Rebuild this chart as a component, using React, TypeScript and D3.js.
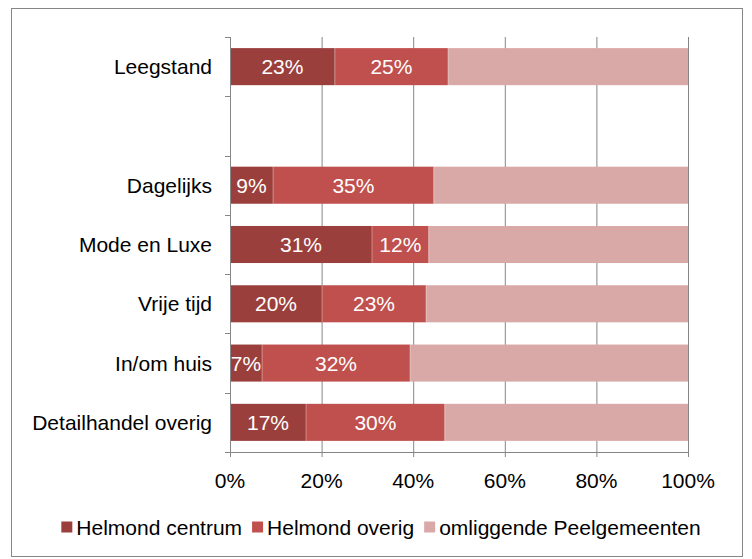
import { useEffect, useRef } from 'react';
import * as d3 from 'd3';

const categories = ['Leegstand', '', 'Dagelijks', 'Mode en Luxe', 'Vrije tijd', 'In/om huis', 'Detailhandel overig'];
const seriesNames = ['Helmond centrum', 'Helmond overig', 'omliggende Peelgemeenten'];
const centrumVals = [22.9, 0, 9.4, 31.0, 20.1, 7.0, 16.6];
const overigVals = [24.7, 0, 35.1, 12.4, 22.7, 32.3, 30.3];
const peelVals = [52.4, 0, 55.5, 56.6, 57.2, 60.7, 53.1];
const tickLabels = ['0%', '20%', '40%', '60%', '80%', '100%'];
const colors = ['#9b3f3d', '#c0504d', '#d9a9a8'];

export default function App() {
  const ref = useRef<SVGSVGElement>(null);

  useEffect(() => {
    if (!ref.current) return;
    const svg = d3.select(ref.current);
    svg.selectAll('*').remove();

    const font = 'Liberation Sans, Arial, sans-serif';
    const fs = 21;
    const W = 752;
    const left = 230, right = 688, top = 37, bottom = 452;

    // outer frame
    svg.append('rect')
      .attr('x', 11.5).attr('y', 8.5).attr('width', 731).attr('height', 548)
      .attr('fill', '#fff').attr('stroke', '#868686').attr('stroke-width', 1);

    const x = d3.scaleLinear().domain([0, 100]).range([left, right]);
    const keys = categories.map((c, i) => c + '#' + i);
    const y = d3.scaleBand().domain(keys)
      .range([top, bottom]).paddingInner(0.375).paddingOuter(0.1875);

    // gridlines
    svg.append('g').selectAll('line').data(d3.range(0, 101, 20)).join('line')
      .attr('x1', d => x(d) + 0.5).attr('x2', d => x(d) + 0.5)
      .attr('y1', top).attr('y2', bottom + 5)
      .attr('stroke', '#868686').attr('stroke-width', 1);

    // stacked bars
    const rows = keys.map((k, i) => ({ key: k, vals: [centrumVals[i], overigVals[i], peelVals[i]] }));
    rows.forEach(r => {
      if (r.vals.every(v => v === 0)) return;
      let acc = 0;
      r.vals.forEach((v, j) => {
        const x0 = x(acc), x1 = x(acc + v);
        svg.append('rect')
          .attr('x', x0).attr('y', y(r.key)!)
          .attr('width', Math.max(0, x1 - x0)).attr('height', y.bandwidth())
          .attr('fill', colors[j]);
        if (j < 2) {
          svg.append('text')
            .attr('x', (x0 + x1) / 2).attr('y', y(r.key)! + y.bandwidth() / 2)
            .attr('dy', '0.36em').attr('text-anchor', 'middle')
            .attr('font-family', font).attr('font-size', fs).attr('fill', '#fff')
            .text(Math.round(v) + '%');
        }
        acc += v;
      });
      // thin separators between segments
      let s = 0;
      r.vals.slice(0, 2).forEach(v => {
        s += v;
        svg.append('line')
          .attr('x1', x(s)).attr('x2', x(s))
          .attr('y1', y(r.key)!).attr('y2', y(r.key)! + y.bandwidth())
          .attr('stroke', '#fff').attr('stroke-opacity', 0.35).attr('stroke-width', 1);
      });
    });

    // category axis
    svg.append('line').attr('x1', left + 0.5).attr('x2', left + 0.5)
      .attr('y1', top).attr('y2', bottom).attr('stroke', '#868686');
    const step = y.step();
    d3.range(0, categories.length + 1).forEach(i => {
      const yy = Math.round(top + i * step) + 0.5;
      svg.append('line').attr('x1', left - 5).attr('x2', left)
        .attr('y1', yy).attr('y2', yy).attr('stroke', '#868686');
    });
    categories.forEach((c, i) => {
      if (!c) return;
      svg.append('text')
        .attr('x', left - 18).attr('y', y(keys[i])! + y.bandwidth() / 2)
        .attr('dy', '0.36em').attr('text-anchor', 'end')
        .attr('font-family', font).attr('font-size', fs).attr('fill', '#000')
        .text(c);
    });

    // value axis
    svg.append('line').attr('x1', left).attr('x2', right + 1)
      .attr('y1', bottom + 0.5).attr('y2', bottom + 0.5).attr('stroke', '#868686');
    tickLabels.forEach((t, i) => {
      svg.append('text')
        .attr('x', x(i * 20)).attr('y', 480).attr('dy', '0.36em')
        .attr('text-anchor', 'middle')
        .attr('font-family', font).attr('font-size', fs).attr('fill', '#000')
        .text(t);
    });

    // legend
    const legend = svg.append('g');
    let lx = 0;
    seriesNames.forEach((n, i) => {
      legend.append('rect').attr('x', lx).attr('y', 521.5).attr('width', 11).attr('height', 11)
        .attr('fill', colors[i]);
      const t = legend.append('text').attr('x', lx + 15).attr('y', 527).attr('dy', '0.36em')
        .attr('font-family', font).attr('font-size', fs).attr('fill', '#000').text(n);
      const w = (t.node() as SVGTextElement).getComputedTextLength();
      lx += 15 + w + 10;
    });
    const total = lx - 10;
    legend.attr('transform', `translate(${(W - total) / 2 + 5},0)`);
  }, []);

  return (
    <svg ref={ref} width={752} height={559} style={{ position: 'absolute', left: 0, top: 0 }} />
  );
}
